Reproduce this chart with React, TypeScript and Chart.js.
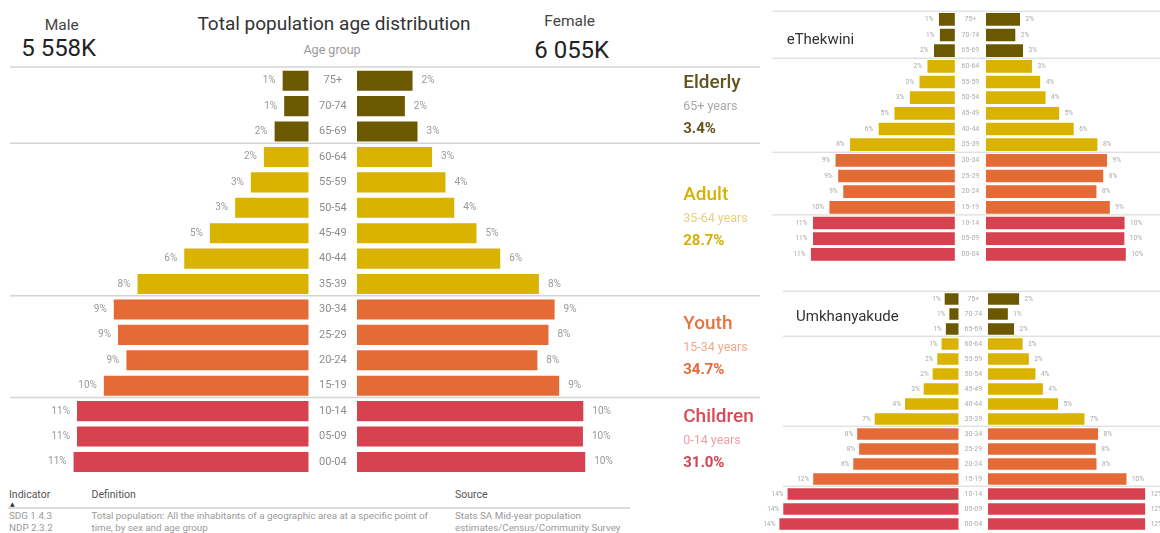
import React, { useEffect, useRef } from "react";
import { Chart, registerables } from "chart.js";

Chart.register(...registerables);

const FONT = "Roboto, 'Noto Sans', 'DejaVu Sans', sans-serif";

// ---------- categories ----------
const AGE_GROUPS = ["75+", "70-74", "65-69", "60-64", "55-59", "50-54", "45-49", "40-44", "35-39", "30-34", "25-29", "20-24", "15-19", "10-14", "05-09", "00-04"];
const AGE_BAND_INDEX = [0, 0, 0, 1, 1, 1, 1, 1, 1, 2, 2, 2, 2, 3, 3, 3];
const BAND_NAMES = ["Elderly", "Adult", "Youth", "Children"];
const BAND_RANGES = ["65+ years", "35-64 years", "15-34 years", "0-14 years"];
const BAND_SHARES = ["3.4%", "28.7%", "34.7%", "31.0%"];
const BAND_COLORS = ["#6b5800", "#d9b300", "#e46a36", "#d6424f"];
const BAND_NAME_COLORS = ["#62551c", "#d8b200", "#e8723f", "#d84a57"];
const BAND_SUB_COLORS = ["#a8a8a8", "#e6d080", "#f2a98a", "#eaa1a8"];
const BAND_SHARE_COLORS = ["#62551c", "#d6b000", "#e46a36", "#d6424f"];
const SEPARATOR_INDEXES = [0, 3, 9, 13];

// ---------- main pyramid (thousands of people) ----------
const MAIN_MALE_TOTAL = "5 558K";
const MAIN_FEMALE_TOTAL = "6 055K";
const MAIN_MALE_K = [68, 64, 89, 117, 151, 192, 258, 325, 447, 509, 498, 476, 535, 605, 605, 614];
const MAIN_FEMALE_K = [145, 125, 158, 196, 231, 254, 312, 374, 475, 516, 500, 471, 528, 591, 590, 596];
const MAIN_MALE_PCT = [1, 1, 2, 2, 3, 3, 5, 6, 8, 9, 9, 9, 10, 11, 11, 11];
const MAIN_FEMALE_PCT = [2, 2, 3, 3, 4, 4, 5, 6, 8, 9, 8, 8, 9, 10, 10, 10];

// ---------- eThekwini ----------
const ETH_MALE_K = [68, 64, 89, 117, 151, 192, 258, 325, 447, 509, 498, 476, 535, 605, 605, 614];
const ETH_FEMALE_K = [145, 125, 158, 196, 231, 254, 312, 374, 475, 516, 500, 471, 528, 591, 590, 596];
const ETH_MALE_PCT = [1, 1, 2, 2, 3, 3, 5, 6, 8, 9, 9, 9, 10, 11, 11, 11];
const ETH_FEMALE_PCT = [2, 2, 3, 3, 4, 4, 5, 6, 8, 9, 8, 8, 9, 10, 10, 10];

// ---------- Umkhanyakude ----------
const UMK_MALE_K = [3.6, 2.4, 3.3, 4.4, 5.5, 6.7, 9.0, 13.8, 21.6, 26.1, 25.6, 27.1, 37.4, 44.0, 45.1, 46.1];
const UMK_FEMALE_K = [8.0, 5.1, 6.7, 8.9, 10.5, 12.2, 14.1, 18.0, 24.8, 28.3, 27.7, 27.9, 35.6, 40.4, 40.4, 40.4];
const UMK_MALE_PCT = [1, 1, 1, 1, 2, 2, 3, 4, 7, 8, 8, 8, 12, 14, 14, 14];
const UMK_FEMALE_PCT = [2, 1, 2, 3, 3, 4, 4, 5, 7, 8, 8, 8, 10, 12, 12, 12];

const decorPlugin = {
  id: "pyramidDecor",
  beforeDatasetsDraw(chart: any, _args: any, o: any) {
    const { ctx, width } = chart;
    const y = chart.scales.y;
    const band = y.getPixelForValue(1) - y.getPixelForValue(0);
    ctx.save();
    ctx.strokeStyle = o.lineColor;
    ctx.lineWidth = o.lineWidth;
    for (const idx of o.separators) {
      const yy = y.getPixelForValue(idx) - band / 2 + o.lineOffset;
      ctx.beginPath();
      ctx.moveTo(o.lineStart, yy);
      ctx.lineTo(width, yy);
      ctx.stroke();
    }
    ctx.restore();
  },
  afterDatasetsDraw(chart: any, _args: any, o: any) {
    const { ctx, chartArea } = chart;
    const y = chart.scales.y;
    const meta = chart.getDatasetMeta(0);
    ctx.save();
    ctx.textBaseline = "middle";
    ctx.font = `${o.valueSize}px ${FONT}`;
    ctx.fillStyle = o.valueColor;
    meta.data.forEach((el: any, i: number) => {
      const p = el.getProps(["x", "y"], true);
      const txt = `${o.valueLabels[i]}%`;
      if (o.side === "male") {
        ctx.textAlign = "right";
        ctx.fillText(txt, p.x - o.valueGap, p.y);
      } else {
        ctx.textAlign = "left";
        ctx.fillText(txt, p.x + o.valueGap, p.y);
      }
    });
    if (o.ageGap) {
      ctx.font = `${o.ageSize}px ${FONT}`;
      ctx.fillStyle = o.ageColor;
      ctx.textAlign = "center";
      (chart.data.labels as string[]).forEach((lab, i) => {
        ctx.fillText(lab, chartArea.right + o.ageGap / 2, y.getPixelForValue(i));
      });
    }
    if (o.bandLabels) {
      ctx.textAlign = "left";
      const x = chartArea.right + o.bandX;
      BAND_NAMES.forEach((name, b) => {
        const idx = AGE_BAND_INDEX.map((v, i) => (v === b ? i : -1)).filter((i) => i >= 0);
        const c = (y.getPixelForValue(idx[0]) + y.getPixelForValue(idx[idx.length - 1])) / 2 + o.bandShift[b];
        ctx.font = `500 19px ${FONT}`;
        ctx.fillStyle = BAND_NAME_COLORS[b];
        ctx.fillText(name, x, c - 23.5);
        ctx.font = `12.5px ${FONT}`;
        ctx.fillStyle = BAND_SUB_COLORS[b];
        ctx.fillText(BAND_RANGES[b], x, c);
        ctx.font = `bold 15px ${FONT}`;
        ctx.fillStyle = BAND_SHARE_COLORS[b];
        ctx.fillText(BAND_SHARES[b], x, c + 22.5);
      });
    }
    ctx.restore();
  },
};

type HalfProps = {
  left: number;
  top: number;
  width: number;
  height: number;
  padding: { left: number; right: number; top: number; bottom: number };
  values: number[];
  xMax: number;
  side: "male" | "female";
  barPct: number;
  decor: any;
};

function PyramidHalf(p: HalfProps) {
  const ref = useRef<HTMLCanvasElement>(null);
  useEffect(() => {
    const chart = new Chart(ref.current as HTMLCanvasElement, {
      type: "bar",
      data: {
        labels: AGE_GROUPS,
        datasets: [
          {
            data: p.values,
            backgroundColor: AGE_BAND_INDEX.map((b) => BAND_COLORS[b]),
            borderWidth: 0,
            barPercentage: p.barPct,
            categoryPercentage: 1,
          },
        ],
      },
      options: {
        indexAxis: "y",
        animation: false,
        responsive: false,
        maintainAspectRatio: false,
        events: [],
        layout: { padding: p.padding },
        scales: {
          x: { display: false, min: 0, max: p.xMax, reverse: p.side === "male" },
          y: { display: false, ticks: { autoSkip: false } },
        },
        plugins: {
          legend: { display: false },
          tooltip: { enabled: false },
          pyramidDecor: { side: p.side, ...p.decor },
        } as any,
      },
      plugins: [decorPlugin as any],
    });
    return () => chart.destroy();
  }, []);
  return (
    <canvas
      ref={ref}
      width={p.width}
      height={p.height}
      style={{ position: "absolute", left: p.left, top: p.top, width: p.width, height: p.height, display: "block" }}
    />
  );
}

function T(props: {
  x: number;
  y: number;
  size: number;
  color: string;
  align?: "left" | "center";
  weight?: number;
  children: React.ReactNode;
}) {
  const center = props.align === "center";
  return (
    <div
      style={{
        position: "absolute",
        left: props.x,
        top: props.y,
        transform: center ? "translate(-50%, -50%)" : "translate(0, -50%)",
        fontFamily: FONT,
        fontSize: props.size,
        color: props.color,
        fontWeight: props.weight ?? 400,
        whiteSpace: "nowrap",
        lineHeight: 1,
      }}
    >
      {props.children}
    </div>
  );
}

const mainDecor = {
  lineColor: "#d4d4d4",
  lineWidth: 1.5,
  lineOffset: -1,
  separators: SEPARATOR_INDEXES,
  valueSize: 10,
  valueColor: "#9a9a9a",
  ageSize: 11,
  ageColor: "#8c8c8c",
};

const smallDecor = {
  lineColor: "#d4d4d4",
  lineWidth: 1,
  lineOffset: -0.3,
  separators: SEPARATOR_INDEXES,
  valueSize: 6.5,
  valueColor: "#a8a8a8",
  valueGap: 5.5,
  ageSize: 7,
  ageColor: "#acacac",
};

export default function App() {
  return (
    <div style={{ position: "relative", width: 1160, height: 533, overflow: "hidden", background: "#fff" }}>
      <style>{`body{margin:0;background:#fff}`}</style>

      {/* Header */}
      <T x={61.7} y={25.5} size={15.5} color="#444" align="center">Male</T>
      <T x={58.7} y={48} size={24} color="#222" align="center">{MAIN_MALE_TOTAL}</T>
      <T x={334} y={22.5} size={19} color="#333" align="center">Total population age distribution</T>
      <T x={332} y={50} size={12.5} color="#999" align="center">Age group</T>
      <T x={569.7} y={22} size={15.5} color="#444" align="center">Female</T>
      <T x={571.7} y={49.5} size={24} color="#222" align="center">{MAIN_FEMALE_TOTAL}</T>

      {/* Main pyramid */}
      <PyramidHalf
        left={10}
        top={60}
        width={347}
        height={420}
        padding={{ left: 0, right: 48.3, top: 8, bottom: 5.3 }}
        values={MAIN_MALE_K}
        xMax={780}
        side="male"
        barPct={0.79}
        decor={{ ...mainDecor, lineStart: 0, valueLabels: MAIN_MALE_PCT, valueGap: 7, ageGap: 48.3 }}
      />
      <PyramidHalf
        left={357}
        top={60}
        width={403}
        height={420}
        padding={{ left: 0, right: 104.3, top: 8, bottom: 5.3 }}
        values={MAIN_FEMALE_K}
        xMax={780}
        side="female"
        barPct={0.79}
        decor={{
          ...mainDecor,
          lineStart: 0,
          valueLabels: MAIN_FEMALE_PCT,
          valueGap: 9,
          bandLabels: true,
          bandX: 27.5,
          bandShift: [0.5, -2, 0, 4.5],
        }}
      />

      {/* Footer */}
      <T x={9} y={494.7} size={10.5} color="#555">Indicator</T>
      <T x={10} y={503.5} size={6} color="#333">▲</T>
      <T x={91.5} y={494.7} size={10.5} color="#555">Definition</T>
      <T x={455} y={494.7} size={10.5} color="#555">Source</T>
      <div style={{ position: "absolute", left: 8, top: 507, width: 622, height: 1.5, background: "#dcdcdc" }} />
      <T x={9} y={516.3} size={9.8} color="#9a9a9a">SDG 1.4.3</T>
      <T x={9} y={527.5} size={9.8} color="#9a9a9a">NDP 2.3.2</T>
      <T x={91.5} y={516.3} size={9.8} color="#9a9a9a">Total population: All the inhabitants of a geographic area at a specific point of</T>
      <T x={91.5} y={527.5} size={9.8} color="#9a9a9a">time, by sex and age group</T>
      <T x={455} y={516.3} size={9.8} color="#9a9a9a">Stats SA Mid-year population</T>
      <T x={455} y={527.5} size={9.8} color="#9a9a9a">estimates/Census/Community Survey</T>

      {/* eThekwini */}
      <PyramidHalf
        left={772}
        top={5}
        width={214}
        height={262}
        padding={{ left: 0, right: 31.1, top: 6.5, bottom: 4.8 }}
        values={ETH_MALE_K}
        xMax={780}
        side="male"
        barPct={0.81}
        decor={{ ...smallDecor, lineStart: 0.5, valueLabels: ETH_MALE_PCT, ageGap: 31.1 }}
      />
      <PyramidHalf
        left={986}
        top={5}
        width={190}
        height={262}
        padding={{ left: 0, right: 7.1, top: 6.5, bottom: 4.8 }}
        values={ETH_FEMALE_K}
        xMax={780}
        side="female"
        barPct={0.81}
        decor={{ ...smallDecor, lineStart: 0, valueLabels: ETH_FEMALE_PCT }}
      />
      <T x={786.7} y={39} size={15} color="#333">eThekwini</T>

      {/* Umkhanyakude */}
      <PyramidHalf
        left={762}
        top={285}
        width={226}
        height={248}
        padding={{ left: 10, right: 29.3, top: 6.5, bottom: 1.5 }}
        values={UMK_MALE_K}
        xMax={48}
        side="male"
        barPct={0.78}
        decor={{ ...smallDecor, lineStart: 21, valueLabels: UMK_MALE_PCT, valueGap: 4, ageGap: 29.3 }}
      />
      <PyramidHalf
        left={988}
        top={285}
        width={200}
        height={248}
        padding={{ left: 0, right: 13.3, top: 6.5, bottom: 1.5 }}
        values={UMK_FEMALE_K}
        xMax={48}
        side="female"
        barPct={0.78}
        decor={{ ...smallDecor, lineStart: 0, valueLabels: UMK_FEMALE_PCT }}
      />
      <T x={796} y={315.7} size={15} color="#333">Umkhanyakude</T>
    </div>
  );
}
